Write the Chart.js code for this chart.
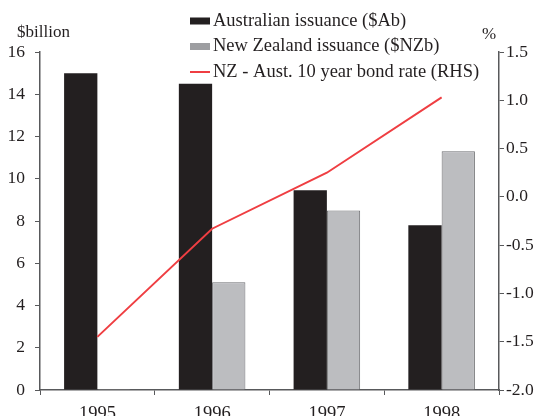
<!DOCTYPE html>
<html>
<head>
<meta charset="utf-8">
<script src="https://cdn.jsdelivr.net/npm/chart.js@4/dist/chart.umd.min.js"></script>
<style>
html,body{margin:0;padding:0;background:#fff;}
#wrap{width:540px;height:416px;position:relative;}
</style>
</head>
<body>
<div id="wrap"><canvas id="c" width="540" height="416"></canvas></div>
<script>
const categories = ['1995', '1996', '1997', '1998'];
const ausIssuance = [15.0, 14.5, 9.45, 7.8];
const nzIssuance = [0.05, 5.1, 8.5, 11.3];
const bondSpread = [-1.45, -0.33, 0.25, 1.03];
const seriesLabels = ['Australian issuance ($Ab)', 'New Zealand issuance ($NZb)', 'NZ - Aust. 10 year bond rate (RHS)'];
const leftTicks = [0, 2, 4, 6, 8, 10, 12, 14, 16];
const rightTicks = [-2.0, -1.5, -1.0, -0.5, 0.0, 0.5, 1.0, 1.5];
const leftUnit = '$billion';
const rightUnit = '%';

const FONT = "'Liberation Serif', 'Times New Roman', serif";
const TXT = '#231f20';
const AXIS = '#58595b';

const extras = {
  id: 'extras',
  afterDraw(chart) {
    const ctx = chart.ctx;
    ctx.save();
    ctx.fillStyle = TXT;
    ctx.textBaseline = 'middle';
    ctx.textAlign = 'left';
    ctx.font = '17px ' + FONT;
    ctx.fillText(leftUnit, 17, 33);
    ctx.fillText(rightUnit, 482, 35);
    ctx.font = '18.5px ' + FONT;
    const rows = [21, 46.5, 72];
    chart.data.datasets.forEach((ds, i) => {
      const y = rows[i];
      if (ds.type === 'line') {
        ctx.strokeStyle = ds.borderColor;
        ctx.lineWidth = 2;
        ctx.beginPath();
        ctx.moveTo(190, y);
        ctx.lineTo(210, y);
        ctx.stroke();
      } else {
        ctx.fillStyle = ds.legendColor;
        ctx.fillRect(190, y - 3.5, 20, 7);
      }
      ctx.fillStyle = TXT;
      ctx.fillText(ds.label, 213, y);
    });
    ctx.restore();
  }
};

new Chart(document.getElementById('c'), {
  data: {
    labels: categories,
    datasets: [
      {
        type: 'bar', label: seriesLabels[0], data: ausIssuance, yAxisID: 'y',
        backgroundColor: '#231f20', legendColor: '#231f20', borderWidth: 0, order: 2,
        barPercentage: 1.0, categoryPercentage: 0.58
      },
      {
        type: 'bar', label: seriesLabels[1], data: nzIssuance, yAxisID: 'y',
        backgroundColor: '#bcbdc0', legendColor: '#9d9ea1', borderColor: '#6d6e71', borderWidth: 1, order: 2,
        barPercentage: 1.0, categoryPercentage: 0.58
      },
      {
        type: 'line', label: seriesLabels[2], data: bondSpread, yAxisID: 'y1',
        borderColor: '#ef3e42', borderWidth: 2, pointRadius: 0, tension: 0, fill: false, order: 0
      }
    ]
  },
  options: {
    responsive: false,
    animation: false,
    layout: { padding: { top: 52, left: 0, right: 0, bottom: 0 } },
    plugins: { legend: { display: false }, tooltip: { enabled: false } },
    scales: {
      x: {
        type: 'category',
        offset: true,
        grid: { offset: true, drawOnChartArea: false, drawTicks: true, tickLength: 5, color: AXIS },
        border: { color: AXIS, width: 1.5 },
        ticks: { color: TXT, font: { family: FONT, size: 18.5 }, padding: 8, maxRotation: 0 },
        afterFit(s) { s.height = 26; }
      },
      y: {
        position: 'left',
        min: 0, max: 16,
        afterBuildTicks(s) { s.ticks = leftTicks.map(v => ({ value: v })); },
        grid: { drawOnChartArea: false, drawTicks: true, tickLength: 5, color: AXIS },
        border: { color: AXIS, width: 1.5 },
        ticks: { color: TXT, font: { family: FONT, size: 17.5 }, padding: 10 },
        afterFit(s) { s.width = 40; }
      },
      y1: {
        position: 'right',
        min: -2.0, max: 1.5,
        afterBuildTicks(s) { s.ticks = rightTicks.map(v => ({ value: v })); },
        grid: { drawOnChartArea: false, drawTicks: true, tickLength: 5, color: AXIS },
        border: { color: AXIS, width: 1.5 },
        ticks: { color: TXT, font: { family: FONT, size: 17.5 }, padding: 2, callback: v => Number(v).toFixed(1) },
        afterFit(s) { s.width = 41; }
      }
    }
  },
  plugins: [extras]
});
</script>
</body>
</html>
